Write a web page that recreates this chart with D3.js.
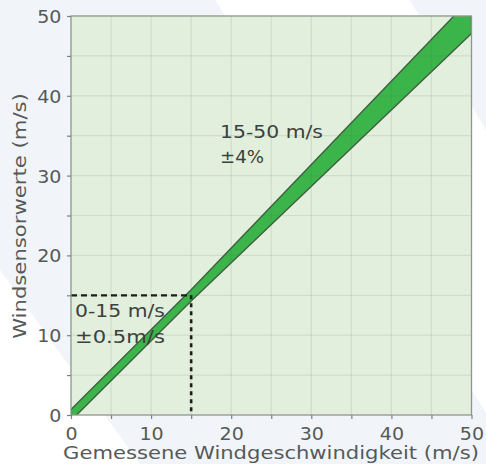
<!DOCTYPE html>
<html>
<head>
<meta charset="utf-8">
<script src="https://cdn.jsdelivr.net/npm/d3@7"></script>
<style>
  html, body { margin: 0; padding: 0; background: #ffffff; }
  svg { display: block; }
  text { font-family: "DejaVu Sans", sans-serif; }
</style>
</head>
<body>
<svg id="chart" width="486" height="464"></svg>
<script>
// ---- data ----
const xTickValues = [0, 10, 20, 30, 40, 50];
const yTickValues = [0, 10, 20, 30, 40, 50];
const minorTickValues = [5, 15, 25, 35, 45];
const gridValues = [5, 10, 15, 20, 25, 30, 35, 40, 45];
// tolerance band (as drawn): measured speed vs sensor reading
const bandX    = [0,    15,   15,   50];
const bandLow  = [-0.7, 14.3, 14.3, 47.8];
const bandHigh = [0.7,  15.7, 15.7, 52.3];
// reference point of the range switch
const switchX = 15;
const switchY = 15;
const labelLow  = ["0-15 m/s", "±0.5m/s"];
const labelHigh = ["15-50 m/s", "±4%"];
const xTitle = "Gemessene Windgeschwindigkeit (m/s)";
const yTitle = "Windsensorwerte (m/s)";

// ---- layout ----
const svg = d3.select("#chart");
const W = 486, H = 464;
const mLeft = 71, mRight = 471.5, mTop = 16, mBottom = 415;

// background decorative stripes
svg.append("rect").attr("width", W).attr("height", H).attr("fill", "#ffffff");
svg.append("polygon")
  .attr("points", "0,0 215,0 520,464 140,464 0,270")
  .attr("fill", "#f1f5fa");
svg.append("polygon")
  .attr("points", "410,0 486,0 486,130")
  .attr("fill", "#f1f5fa");

const x = d3.scaleLinear().domain([0, 50]).range([mLeft, mRight]);
const y = d3.scaleLinear().domain([0, 50]).range([mBottom, mTop]);

// plot background
svg.append("rect")
  .attr("x", x(0)).attr("y", y(50))
  .attr("width", x(50) - x(0)).attr("height", y(0) - y(50))
  .attr("fill", "#e1efdc");

svg.append("clipPath").attr("id", "clip")
  .append("rect")
  .attr("x", x(0)).attr("y", y(50))
  .attr("width", x(50) - x(0)).attr("height", y(0) - y(50));

const plot = svg.append("g").attr("clip-path", "url(#clip)");

// band
const bandData = bandX.map((v, i) => ({ x: v, lo: bandLow[i], hi: bandHigh[i] }));
const area = d3.area()
  .x(d => x(d.x))
  .y0(d => y(d.lo))
  .y1(d => y(d.hi));
plot.append("path")
  .datum(bandData)
  .attr("d", area)
  .attr("fill", "#3bb44a")
  .attr("stroke", "#3f5f42")
  .attr("stroke-width", 1.4)
  .attr("stroke-linejoin", "round");

// grid (on top, faint)
plot.selectAll(".gx").data(gridValues).join("line")
  .attr("x1", d => x(d)).attr("x2", d => x(d))
  .attr("y1", y(0)).attr("y2", y(50))
  .attr("stroke", "rgba(90,100,90,0.13)").attr("stroke-width", 1.2);
plot.selectAll(".gy").data(gridValues).join("line")
  .attr("y1", d => y(d)).attr("y2", d => y(d))
  .attr("x1", x(0)).attr("x2", x(50))
  .attr("stroke", "rgba(90,100,90,0.13)").attr("stroke-width", 1.2);

// dashed switch lines
svg.append("line")
  .attr("x1", x(0)).attr("x2", x(switchX))
  .attr("y1", y(switchY)).attr("y2", y(switchY))
  .attr("stroke", "#1e1e1e").attr("stroke-width", 2.2)
  .attr("stroke-dasharray", "6,4");
svg.append("line")
  .attr("x1", x(switchX)).attr("x2", x(switchX))
  .attr("y1", y(switchY)).attr("y2", y(0))
  .attr("stroke", "#1e1e1e").attr("stroke-width", 2.6)
  .attr("stroke-dasharray", "4,4");

// frame
svg.append("rect")
  .attr("x", x(0)).attr("y", y(50))
  .attr("width", x(50) - x(0)).attr("height", y(0) - y(50))
  .attr("fill", "none").attr("stroke", "#8f9590").attr("stroke-width", 1.3);

// axes
const tickAll = yTickValues.concat(minorTickValues);
const yAxis = d3.axisLeft(y).tickValues(tickAll)
  .tickFormat(d => yTickValues.includes(d) ? d : "")
  .tickSize(4).tickPadding(6);
const gy = svg.append("g").attr("transform", `translate(${x(0)},0)`).call(yAxis);
const xAxis = d3.axisBottom(x).tickValues(tickAll)
  .tickFormat(d => xTickValues.includes(d) ? d : "")
  .tickSize(4).tickPadding(6);
const gx = svg.append("g").attr("transform", `translate(0,${y(0)})`).call(xAxis);
[gx, gy].forEach(g => {
  g.select(".domain").remove();
  g.selectAll(".tick line").attr("stroke", "#7c807c").attr("stroke-width", 1.2);
  g.selectAll(".tick text")
    .attr("fill", "#555a58")
    .style("font-family", "DejaVu Sans, sans-serif")
    .style("font-size", "18px");
});
gy.selectAll(".tick text").attr("dy", "0.36em").attr("x", -9)
  .attr("transform", "scale(1.06,1)");
gx.selectAll(".tick text").attr("y", 12).attr("dy", "0.71em")
  .attr("transform", "scale(1.06,1)");

// place a text stretched horizontally to a target width
function stretched(parent, str, px, py, target, anchor, rotate) {
  const g = parent.append("g");
  const t = g.append("text")
    .attr("text-anchor", anchor)
    .attr("fill", "#555a58")
    .style("font-size", "18px")
    .text(str);
  const s = target / t.node().getComputedTextLength();
  g.attr("transform", `translate(${px},${py})` + (rotate ? ` rotate(${rotate})` : "") + ` scale(${s},1)`);
  return t;
}

// axis titles
stretched(svg, xTitle, 271, 459, 416, "middle", 0);
stretched(svg, yTitle, 26, 216, 246, "middle", -90);

// annotations
stretched(svg, labelHigh[0], 220, 138, 103, "start", 0).attr("fill", "#3c403e");
stretched(svg, labelHigh[1], 220, 163, 44, "start", 0).attr("fill", "#3c403e");
stretched(svg, labelLow[0], 75, 317, 90, "start", 0).attr("fill", "#3c403e");
stretched(svg, labelLow[1], 75, 343, 90, "start", 0).attr("fill", "#3c403e");
</script>
</body>
</html>
